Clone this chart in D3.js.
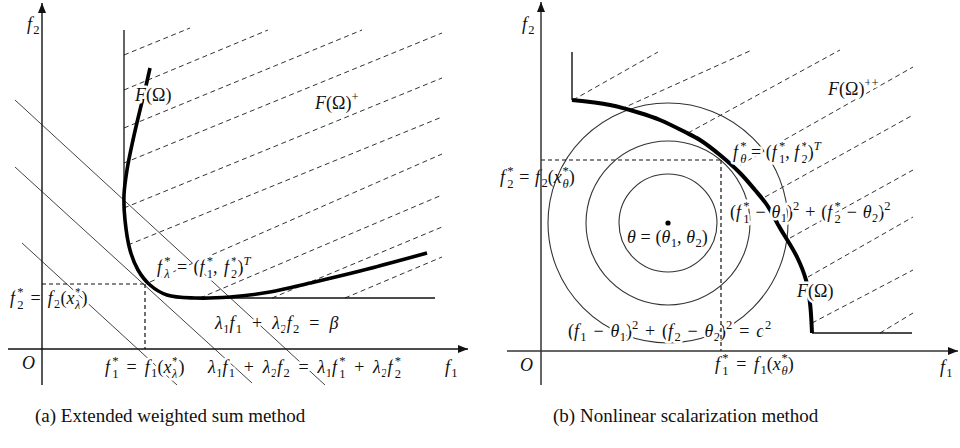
<!DOCTYPE html>
<html>
<head>
<meta charset="utf-8">
<title>Weighted sum vs nonlinear scalarization</title>
<script src="https://d3js.org/d3.v7.min.js"></script>
<style>
body { margin: 0; background: #fff; }
.m { font-family: "Liberation Serif", "DejaVu Serif", serif; white-space: pre; fill: #111; }
.halo { paint-order: stroke; stroke: #fff; stroke-width: 5px; stroke-linejoin: round; }
.cap { font-family: "Liberation Serif", "DejaVu Serif", serif; font-size: 19px; fill: #111; }
</style>
</head>
<body>
<svg id="fig" width="960" height="448"></svg>
<script>

// everything below is in axis units of each panel (1 unit = 10px, origin at O)

// ---- panel (a) extended weighted sum ----
var xAxisA = [-3.4, 42.6], yAxisA = [-3.6, 34.6];
var curveA = [[10.8,28.1],[10.3,25.9],[9.8,23.9],[9.1,20.9],[8.5,17.9],[8.2,15.4],[8.3,12.9],
              [8.8,9.9],[9.6,7.9],[10.8,6.4],[12.5,5.4],[15.3,5.1],[18.8,5.2],[22.8,5.7],
              [26.8,6.6],[31.8,7.8],[38.5,9.6]];
var wallA = [[8.2,31.9],[8.2,15.0]];
var floorA = [[14.0,5.1],[39.3,5.1]];
var optA = [10.3, 6.5];
var hatchA = [
  [[8.2,29.4],[14.8,32.1]], [[8.2,25.9],[22.6,31.9]], [[8.2,22.1],[32.0,31.9]],
  [[8.2,18.6],[40.0,31.6]], [[8.2,14.1],[40.0,27.1]], [[8.6,10.4],[40.0,23.2]],
  [[10.8,6.7],[40.0,19.5]], [[15.8,5.1],[40.0,15.4]], [[23.0,5.1],[40.0,12.2]],
  [[30.3,5.1],[40.0,9.2]]
];
// level lines lambda1 f1 + lambda2 f2 = const
var levelA = [
  [[-2.7,24.9],[28.3,-3.6]],
  [[-2.7,18.2],[21.0,-3.4]],
  [[-2.0,10.6],[13.5,-3.6]]
];
var labelsA = [
  // [u, v, tex, halo, width in px (0 = natural)]
  [-1.5, 31.9, "f_2", 0, 0],
  [9.3, 24.8, "F(Ω)", 1, 0],
  [27.3, 24.0, "F(Ω)^+", 1, 0],
  [11.5, 7.6, "f_λ^* = (f_1^*, f_2^*)^T", 1, 105],
  [-3.2, 4.5, "f_2^* = f_2(x_λ^*)", 1, 85],
  [17.3, 2.0, "λ_1f_1 + λ_2f_2 = β", 1, 120],
  [-2.0, -2.0, "O", 0, 0],
  [6.3, -2.4, "f_1^* = f_1(x_λ^*)", 1, 87],
  [16.6, -2.4, "λ_1f_1 + λ_2f_2 = λ_1f_1^* + λ_2f_2^*", 1, 197],
  [40.3, -2.4, "f_1", 0, 0]
];

// ---- panel (b) nonlinear scalarization ----
var xAxisB = [-3.4, 41.7], yAxisB = [-3.4, 34.9];
var curveB = [[3.1,25.1],[6.9,24.6],[9.9,23.8],[11.9,23.1],[14.4,21.9],[15.9,21.1],[17.9,19.6],
              [19.9,17.8],[21.4,16.1],[22.6,14.6],[23.9,12.3],[25.6,9.4],[26.5,7.1],[26.9,4.8],[27.1,1.8]];
var wallB = [[3.1,29.9],[3.1,25.1]];
var floorB = [[27.1,1.8],[37.1,1.8]];
var thetaB = [12.7, 12.8];
var radiiB = [4.9, 8.2, 12.0];
var optB = [18.0, 19.1];
var hatchB = [
  [[3.2,25.1],[11.7,29.9]], [[8.0,24.2],[21.1,30.1]], [[14.7,21.8],[29.9,30.1]],
  [[19.9,18.6],[37.2,28.4]], [[22.4,15.4],[37.2,23.6]], [[24.9,11.3],[37.2,18.1]],
  [[26.7,7.4],[37.2,13.4]], [[27.1,2.8],[37.2,8.1]], [[33.9,1.8],[37.2,3.8]]
];
var labelsB = [
  [-1.9, 32.1, "f_2", 0, 0],
  [28.7, 25.6, "F(Ω)^{++}", 1, 0],
  [19.2, 19.3, "f_θ^* = (f_1^*, f_2^*)^T", 1, 100],
  [-4.1, 16.8, "f_2^* = f_2(x_θ^*)", 0, 83],
  [18.9, 13.3, "(f_1^* − θ_1)^2 + (f_2^* − θ_2)^2", 1, 168],
  [8.6, 10.8, "θ = (θ_1, θ_2)", 0, 80],
  [25.6, 5.4, "F(Ω)", 1, 0],
  [2.7, 1.4, "(f_1 − θ_1)^2 + (f_2 − θ_2)^2 = c^2", 1, 199],
  [-2.1, -2.0, "O", 0, 0],
  [17.4, -1.9, "f_1^* = f_1(x_θ^*)", 0, 87],
  [39.9, -2.2, "f_1", 0, 0]
];

var captions = ["(a) Extended weighted sum method", "(b) Nonlinear scalarization method"];

var svg = d3.select("#fig");

var xa = d3.scaleLinear().domain([0, 10]).range([42, 142]),
    ya = d3.scaleLinear().domain([0, 10]).range([349, 249]);
var xb = d3.scaleLinear().domain([0, 10]).range([541, 641]),
    yb = d3.scaleLinear().domain([0, 10]).range([351, 251]);

svg.append("defs").append("marker")
    .attr("id", "arr").attr("viewBox", "0 0 10 8")
    .attr("refX", 10).attr("refY", 4)
    .attr("markerWidth", 11).attr("markerHeight", 8)
    .attr("markerUnits", "userSpaceOnUse").attr("orient", "auto")
  .append("path").attr("d", "M0,0L10,4L0,8z").attr("fill", "#111");

// tiny TeX-ish typesetter: letters italic, _ and ^ scripts (stacked when both),
// spaces stretched so the label gets the width it has in the picture
function tex(g, x, y, src, size, halo, width) {
  var t = g.append("text").attr("class", halo ? "m halo" : "m")
      .attr("x", x).attr("y", y).attr("font-size", size);
  var cur = 0, pend = 0, i = 0, spaces = [];
  function put(ch, sz, off) {
    var ts = t.append("tspan").attr("font-size", sz).attr("dy", off - cur).text(ch);
    var dx = pend; pend = 0;
    if (dx) ts.attr("dx", dx);
    if (/[A-Za-zα-ω]/.test(ch)) ts.attr("font-style", "italic");
    if (ch === " ") spaces.push([ts, dx]);
    cur = off;
    return ts.node().getComputedTextLength();
  }
  function arg() {
    if (src[i] === "{") { var j = src.indexOf("}", i); var s = src.slice(i + 1, j); i = j + 1; return s; }
    return src[i++];
  }
  while (i < src.length) {
    var base = src[i++];
    put(base, size, 0);
    var sub = null, sup = null;
    while (src[i] === "_" || src[i] === "^") {
      var k = src[i++];
      if (k === "_") sub = arg(); else sup = arg();
    }
    var ss = size * 0.7, wsup = 0, wsub = 0;
    var kern = base === "f" ? 0.12 * size : (/[A-Za-zα-ω]/.test(base) ? 0.04 * size : 0);
    if (sup) {
      pend = kern;
      for (var a = 0; a < sup.length; a++) wsup += put(sup[a], ss, -0.42 * size);
    }
    if (sub) {
      pend = sup ? -wsup : kern * 0.6;
      for (var b = 0; b < sub.length; b++) wsub += put(sub[b], ss, (sup ? 0.28 : 0.22) * size);
      if (sup && wsup > wsub) pend = wsup - wsub;
    }
  }
  if (width && spaces.length) {
    var extra = (width - t.node().getComputedTextLength()) / spaces.length;
    spaces.forEach(function(s) { s[0].attr("dx", s[1] + extra); });
  }
  return t;
}

function seg(g, d, sx, sy) {
  return g.append("line")
      .attr("x1", sx(d[0][0])).attr("y1", sy(d[0][1]))
      .attr("x2", sx(d[1][0])).attr("y2", sy(d[1][1]));
}

// ================= panel (a) =================
var ga = svg.append("g");

ga.selectAll("line.hatch").data(hatchA).enter().append("line")
    .attr("class", "hatch")
    .attr("x1", function(d) { return xa(d[0][0]); }).attr("y1", function(d) { return ya(d[0][1]); })
    .attr("x2", function(d) { return xa(d[1][0]); }).attr("y2", function(d) { return ya(d[1][1]); })
    .attr("stroke", "#333").attr("stroke-width", 1).attr("stroke-dasharray", "5,3.5");

ga.selectAll("line.level").data(levelA).enter().append("line")
    .attr("class", "level")
    .attr("x1", function(d) { return xa(d[0][0]); }).attr("y1", function(d) { return ya(d[0][1]); })
    .attr("x2", function(d) { return xa(d[1][0]); }).attr("y2", function(d) { return ya(d[1][1]); })
    .attr("stroke", "#444").attr("stroke-width", 1);

seg(ga, wallA, xa, ya).attr("stroke", "#111").attr("stroke-width", 1.3);
seg(ga, floorA, xa, ya).attr("stroke", "#111").attr("stroke-width", 1.3);

ga.append("path").datum(curveA)
    .attr("d", d3.line().x(function(d) { return xa(d[0]); }).y(function(d) { return ya(d[1]); })
      .curve(d3.curveCatmullRom.alpha(0.5)))
    .attr("fill", "none").attr("stroke", "#000").attr("stroke-width", 3.6).attr("stroke-linecap", "butt");

labelsA.forEach(function(l) { tex(ga, xa(l[0]), ya(l[1]), l[2], 18, l[3], l[4]); });

// projections of the optimum onto the axes
seg(ga, [[0, optA[1]], optA], xa, ya).attr("stroke", "#111").attr("stroke-width", 1.2).attr("stroke-dasharray", "4,3");
seg(ga, [optA, [optA[0], 0]], xa, ya).attr("stroke", "#111").attr("stroke-width", 1.2).attr("stroke-dasharray", "4,3");

seg(ga, [[xAxisA[0], 0], [xAxisA[1], 0]], xa, ya).attr("stroke", "#111").attr("stroke-width", 1.4).attr("marker-end", "url(#arr)");
seg(ga, [[0, yAxisA[0]], [0, yAxisA[1]]], xa, ya).attr("stroke", "#111").attr("stroke-width", 1.4).attr("marker-end", "url(#arr)");

// ================= panel (b) =================
var gb = svg.append("g");

gb.selectAll("line.hatch").data(hatchB).enter().append("line")
    .attr("class", "hatch")
    .attr("x1", function(d) { return xb(d[0][0]); }).attr("y1", function(d) { return yb(d[0][1]); })
    .attr("x2", function(d) { return xb(d[1][0]); }).attr("y2", function(d) { return yb(d[1][1]); })
    .attr("stroke", "#333").attr("stroke-width", 1).attr("stroke-dasharray", "5,3.5");

gb.selectAll("circle.level").data(radiiB).enter().append("circle")
    .attr("class", "level")
    .attr("cx", xb(thetaB[0])).attr("cy", yb(thetaB[1]))
    .attr("r", function(r) { return xb(r) - xb(0); })
    .attr("fill", "none").attr("stroke", "#333").attr("stroke-width", 1.1);

gb.append("circle").attr("cx", xb(thetaB[0])).attr("cy", yb(thetaB[1])).attr("r", 2.6).attr("fill", "#000");

seg(gb, wallB, xb, yb).attr("stroke", "#111").attr("stroke-width", 1.4);
seg(gb, floorB, xb, yb).attr("stroke", "#111").attr("stroke-width", 1.4);

gb.append("path").datum(curveB)
    .attr("d", d3.line().x(function(d) { return xb(d[0]); }).y(function(d) { return yb(d[1]); })
      .curve(d3.curveCatmullRom.alpha(0.5)))
    .attr("fill", "none").attr("stroke", "#000").attr("stroke-width", 4).attr("stroke-linecap", "butt");

labelsB.forEach(function(l) { tex(gb, xb(l[0]), yb(l[1]), l[2], 18, l[3], l[4]); });

seg(gb, [[0, optB[1]], optB], xb, yb).attr("stroke", "#111").attr("stroke-width", 1.2).attr("stroke-dasharray", "4,3");
seg(gb, [optB, [optB[0], 0]], xb, yb).attr("stroke", "#111").attr("stroke-width", 1.2).attr("stroke-dasharray", "4,3");

seg(gb, [[xAxisB[0], 0], [xAxisB[1], 0]], xb, yb).attr("stroke", "#333").attr("stroke-width", 1.5).attr("marker-end", "url(#arr)");
seg(gb, [[0, yAxisB[0]], [0, yAxisB[1]]], xb, yb).attr("stroke", "#333").attr("stroke-width", 1.5).attr("marker-end", "url(#arr)");

// captions
svg.append("text").attr("class", "cap").attr("x", 35).attr("y", 422).text(captions[0]);
svg.append("text").attr("class", "cap").attr("x", 553).attr("y", 422).text(captions[1]);

</script>
</body>
</html>
